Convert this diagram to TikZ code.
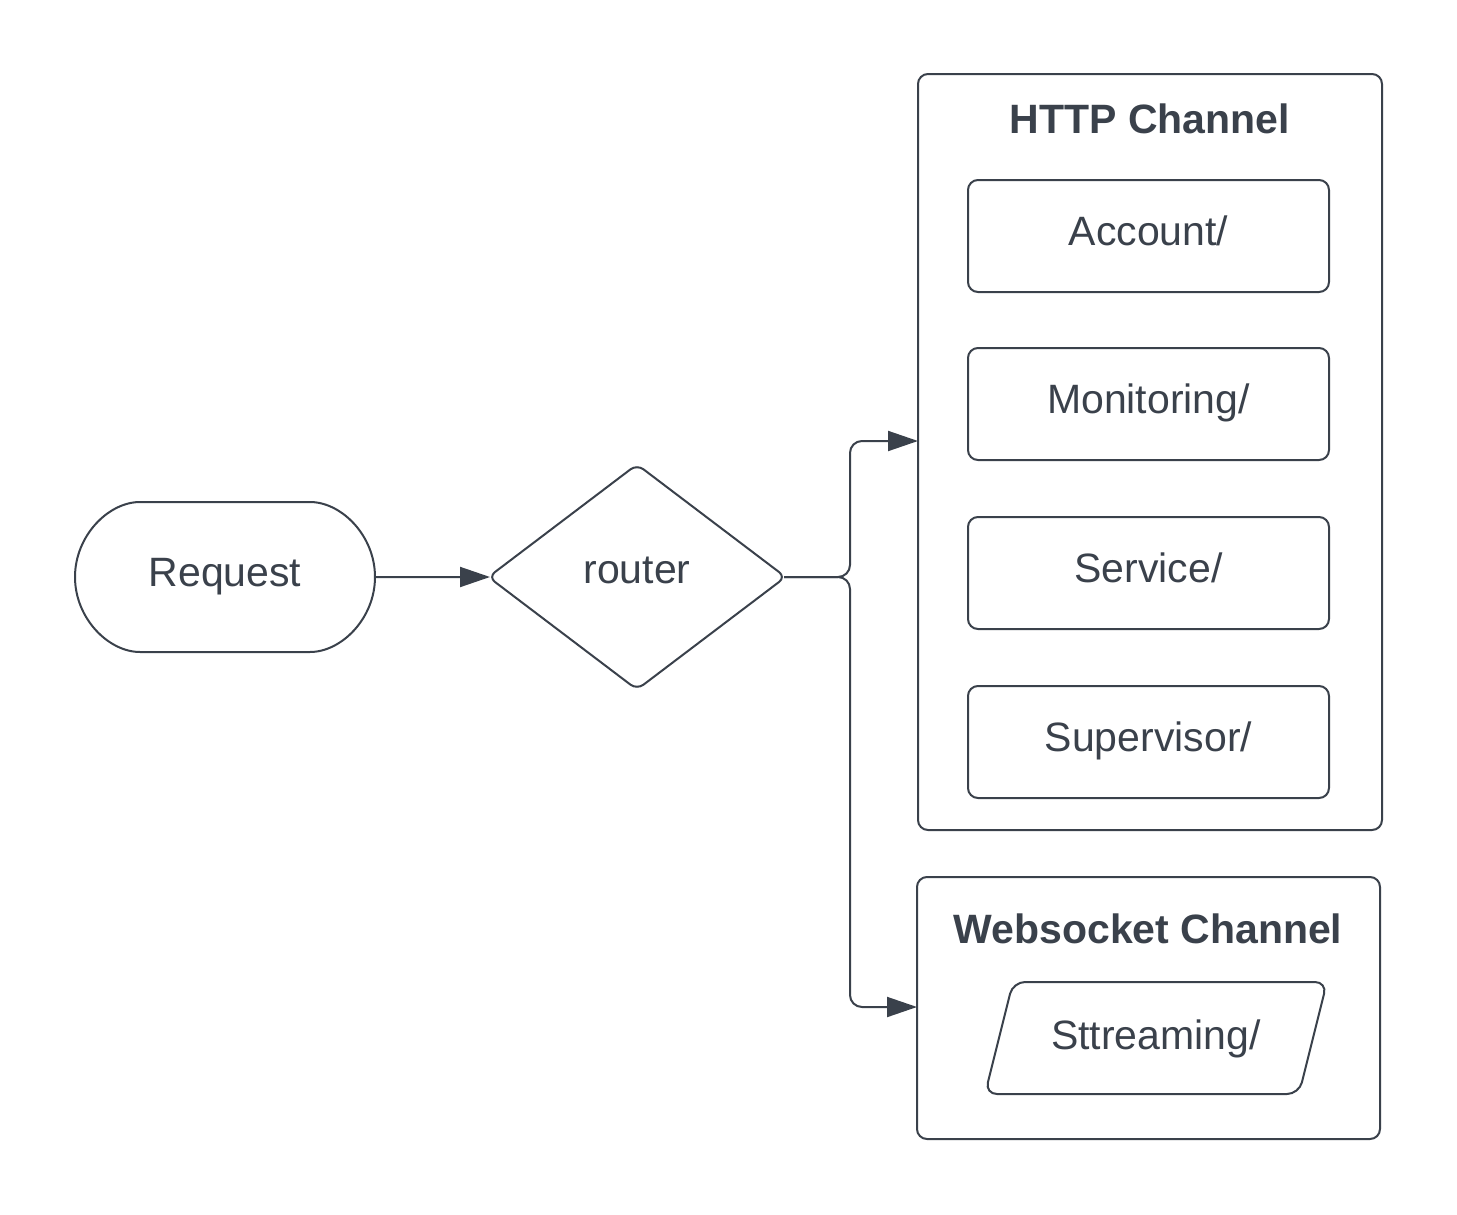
\documentclass[tikz,border=0pt]{standalone}
\usepackage{fontspec}
\setmainfont{Liberation Sans}
\usepackage{tikz}
\usetikzlibrary{arrows.meta, shapes.geometric, shapes.misc, positioning}
\definecolor{ink}{RGB}{58,65,75}

\tikzset{
    box/.style={draw=ink, line width=1pt, rounded corners=5pt, inner sep=0pt},
    conn/.style={draw=ink, line width=1pt, -{Triangle[length=15pt,width=10pt]}},
    lbl/.style={text=ink, font=\fontsize{20.5}{24}\selectfont, text height=15pt, text depth=6pt},
    ttl/.style={text=ink, font=\fontsize{20.5}{24}\selectfont\bfseries}
}

\begin{document}
\begin{tikzpicture}[x=0.5pt, y=-0.5pt]
                \useasboundingbox (0,0) rectangle (1457,1215);

                % start and router
                \node[box, rounded rectangle, minimum width=150pt, minimum height=75pt, lbl] (request) at (225,577) {Request};
                \node[box, diamond, rounded corners=4pt, minimum width=149pt, minimum height=113pt, lbl, text depth=9pt] (router) at (637,577) {router};

                % http channel
                \node[box, minimum width=232pt, minimum height=378pt] (http) at (1150,452) {};
                \node[ttl] (httptitle) at (1150,119) {HTTP Channel};

                \node[box, minimum width=180.5pt, minimum height=56pt, lbl] (account) at (1148.5,236) {Account/};
                \node[box, minimum width=180.5pt, minimum height=56pt, lbl] (monitoring) at (1148.5,404) {Monitoring/};
                \node[box, minimum width=180.5pt, minimum height=56pt, lbl] (service) at (1148.5,573) {Service/};
                \node[box, minimum width=180.5pt, minimum height=56pt, lbl] (supervisor) at (1148.5,742) {Supervisor/};

                % websocket channel
                \node[box, minimum width=231.5pt, minimum height=131pt] (ws) at (1148.5,1008) {};
                \node[ttl] (wstitle) at (1148,929) {Websocket Channel};

                \draw[ink, line width=1pt, rounded corners=6pt] (1013,982) -- (1327,982) -- (1299,1094) -- (985,1094) -- cycle;
                \node[lbl] (streaming) at (1156,1040) {Sttreaming/};

                % connectors
                \coordinate (split) at (850,577);
                \coordinate (httpin) at (918,441);
                \coordinate (wsin) at (917,1007);

                \draw[conn] (request) -- ([xshift=1.5pt]router.west);
                \draw[conn, rounded corners=6pt] ([xshift=-1.5pt]router.east) -- (split) |- (httpin);
                \draw[conn, rounded corners=6pt] ([xshift=-1.5pt]router.east) -- (split) |- (wsin);
            \end{tikzpicture}
\end{document}
